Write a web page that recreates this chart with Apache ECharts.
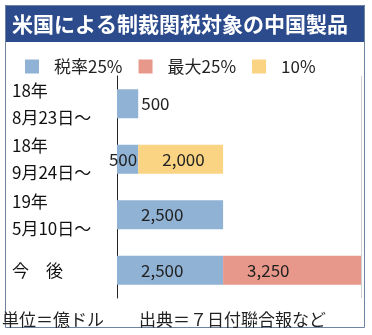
<!DOCTYPE html>
<html>
<head>
<meta charset="utf-8">
<script src="https://cdn.jsdelivr.net/npm/echarts@6/dist/echarts.min.js"></script>
<style>html,body{margin:0;padding:0;background:#fff;}#c{width:372px;height:335px;}</style>
</head>
<body>
<div id="c"></div>
<script>
const categories = ['18年\n8月23日〜', '18年\n9月24日〜', '19年\n5月10日〜', '今　後'];
const rate25 = [500, 500, 2500, 2500];
const max25 = [null, null, null, 3250];
const rate10 = [null, 2000, null, null];
const seriesNames = ['税率25%', '最大25%', '10%'];
const titleText = '米国による制裁関税対象の中国製品';
const unitText = '単位＝億ドル';
const sourceText = '出典＝７日付聯合報など';

const FONT = '"Noto Sans CJK JP", "Noto Sans", sans-serif';
const fmt = p => p.value == null ? '' : Number(p.value).toLocaleString('en-US');
const baseLabel = {show: true, position: 'insideLeft', distance: 24, fontSize: 17, color: '#222', fontFamily: FONT, formatter: fmt};

const blueData = rate25.map((v, i) => {
  if (i === 0) return {value: v, label: {position: 'right', distance: 3}};
  if (i === 1) return {value: v, label: {position: 'insideRight', distance: 1}};
  return v;
});

const chart = echarts.init(document.getElementById('c'), null, {renderer: 'canvas'});
chart.setOption({
  animation: false,
  textStyle: {fontFamily: FONT},
  grid: {left: 117, right: 11, top: 76, bottom: 37, containLabel: false},
  legend: {
    data: seriesNames,
    left: 20, top: 53,
    itemWidth: 14, itemHeight: 14, itemGap: 16,
    icon: 'rect',
    textStyle: {fontSize: 17, color: '#222', fontFamily: FONT, padding: [0, 0, 0, 10]}
  },
  xAxis: {
    type: 'value', min: 0, max: 5750, interval: 5750,
    axisLabel: {show: false}, axisLine: {show: false}, axisTick: {show: false},
    splitLine: {show: true, lineStyle: {color: '#cfcfcf', width: 1}}
  },
  yAxis: {
    type: 'category', data: categories, inverse: true,
    axisLine: {show: true, lineStyle: {color: '#222', width: 1}},
    axisTick: {show: false},
    axisLabel: {align: 'left', margin: 105, fontSize: 17, lineHeight: 27, color: '#111', fontFamily: FONT}
  },
  series: [
    {name: seriesNames[0], type: 'bar', stack: 't', barWidth: 29, data: blueData,
     itemStyle: {color: '#8fb2d5'}, label: baseLabel},
    {name: seriesNames[2], type: 'bar', stack: 't', barWidth: 29, data: rate10,
     itemStyle: {color: '#fad482'}, label: baseLabel},
    {name: seriesNames[1], type: 'bar', stack: 't', barWidth: 29, data: max25,
     itemStyle: {color: '#e8988a'}, label: baseLabel}
  ],
  graphic: [
    {type: 'rect', shape: {x: 5.5, y: 5.5, width: 359, height: 322}, style: {fill: 'none', stroke: '#6f84a3', lineWidth: 1}, z: 10},
    {type: 'rect', shape: {x: 5, y: 5, width: 360, height: 37}, style: {fill: '#2c4b8c'}, z: 9},
    {type: 'text', x: 12, y: 24, style: {text: titleText, fill: '#fff', fontSize: 21, fontWeight: 'bold', fontFamily: FONT, textVerticalAlign: 'middle', verticalAlign: 'middle'}, z: 11},
    {type: 'text', x: 2, y: 320, style: {text: unitText, fill: '#222', fontSize: 17, fontFamily: FONT, textVerticalAlign: 'middle', verticalAlign: 'middle'}, z: 11},
    {type: 'text', x: 139, y: 320, style: {text: sourceText, fill: '#222', fontSize: 17, fontFamily: FONT, textVerticalAlign: 'middle', verticalAlign: 'middle'}, z: 11}
  ]
});
</script>
</body>
</html>
